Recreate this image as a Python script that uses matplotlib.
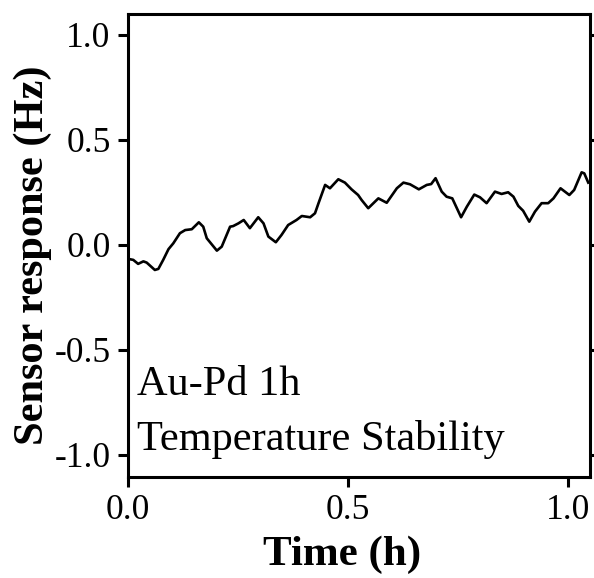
import matplotlib
matplotlib.use("Agg")
import matplotlib.pyplot as plt

# sensor response trace
time_h = [0.0045, 0.012, 0.023, 0.035, 0.0425, 0.061, 0.069, 0.080, 0.092, 0.103,
          0.118, 0.130, 0.145, 0.161, 0.171, 0.179, 0.202, 0.213, 0.232, 0.239,
          0.251, 0.263, 0.277, 0.296, 0.308, 0.319, 0.336, 0.349, 0.364, 0.383,
          0.395, 0.414, 0.425, 0.433, 0.448, 0.459, 0.478, 0.493, 0.508, 0.523,
          0.531, 0.546, 0.569, 0.588, 0.611, 0.626, 0.641, 0.661, 0.679, 0.689,
          0.699, 0.713, 0.724, 0.737, 0.757, 0.770, 0.787, 0.800, 0.815, 0.834,
          0.849, 0.864, 0.876, 0.887, 0.898, 0.912, 0.925, 0.940, 0.955, 0.967,
          0.983, 1.003, 1.014, 1.031, 1.037, 1.046]
response_hz = [-0.068, -0.071, -0.090, -0.078, -0.084, -0.119, -0.114, -0.071, -0.020, 0.008,
               0.056, 0.071, 0.075, 0.108, 0.087, 0.032, -0.027, -0.008, 0.087, 0.090,
               0.103, 0.119, 0.080, 0.132, 0.103, 0.040, 0.013, 0.048, 0.095, 0.119,
               0.138, 0.132, 0.151, 0.199, 0.286, 0.270, 0.313, 0.297, 0.265, 0.238,
               0.214, 0.175, 0.222, 0.201, 0.270, 0.297, 0.289, 0.265, 0.286, 0.290,
               0.318, 0.254, 0.230, 0.222, 0.132, 0.182, 0.240, 0.227, 0.199, 0.254,
               0.243, 0.251, 0.230, 0.186, 0.163, 0.111, 0.159, 0.199, 0.199, 0.222,
               0.270, 0.238, 0.262, 0.346, 0.341, 0.297]

xticks = [0.0, 0.5, 1.0]
yticks = [-1.0, -0.5, 0.0, 0.5, 1.0]
notes = ["Au-Pd 1h", "Temperature Stability"]

plt.rcParams["font.family"] = ["Liberation Serif", "DejaVu Serif"]
plt.rcParams["axes.unicode_minus"] = False

fig = plt.figure(figsize=(5.94, 5.78), dpi=100)
ax = fig.add_axes([128 / 594, 101 / 578, 462 / 594, 463 / 578])

ax.plot(time_h, response_hz, color="black", lw=1.9, solid_joinstyle="round")

ax.set_xlim(0, 1.05)
ax.set_ylim(-1.105, 1.1)
ax.set_xticks(xticks)
ax.set_yticks(yticks)
ax.set_xticklabels([f"{v:.1f}" for v in xticks])
ax.set_yticklabels([f"{v:.1f}" for v in yticks])

for s in ax.spines.values():
    s.set_linewidth(2.2)
ax.tick_params(direction="out", length=7.5, width=2.2, labelsize=25.5, pad=5,
               right=True)

ax.set_xlabel("Time (h)", fontsize=31, fontweight="bold")
ax.xaxis.set_label_coords(0.463, -0.127)
ax.set_ylabel("Sensor response (Hz)", fontsize=30.5, fontweight="bold")
ax.yaxis.set_label_coords(-0.164, 0.479)

ax.text(0.02, 0.177, notes[0], transform=ax.transAxes, fontsize=30.5, va="baseline")
ax.text(0.02, 0.058, notes[1], transform=ax.transAxes, fontsize=30.5, va="baseline")

fig.savefig("out.png", dpi=100)
